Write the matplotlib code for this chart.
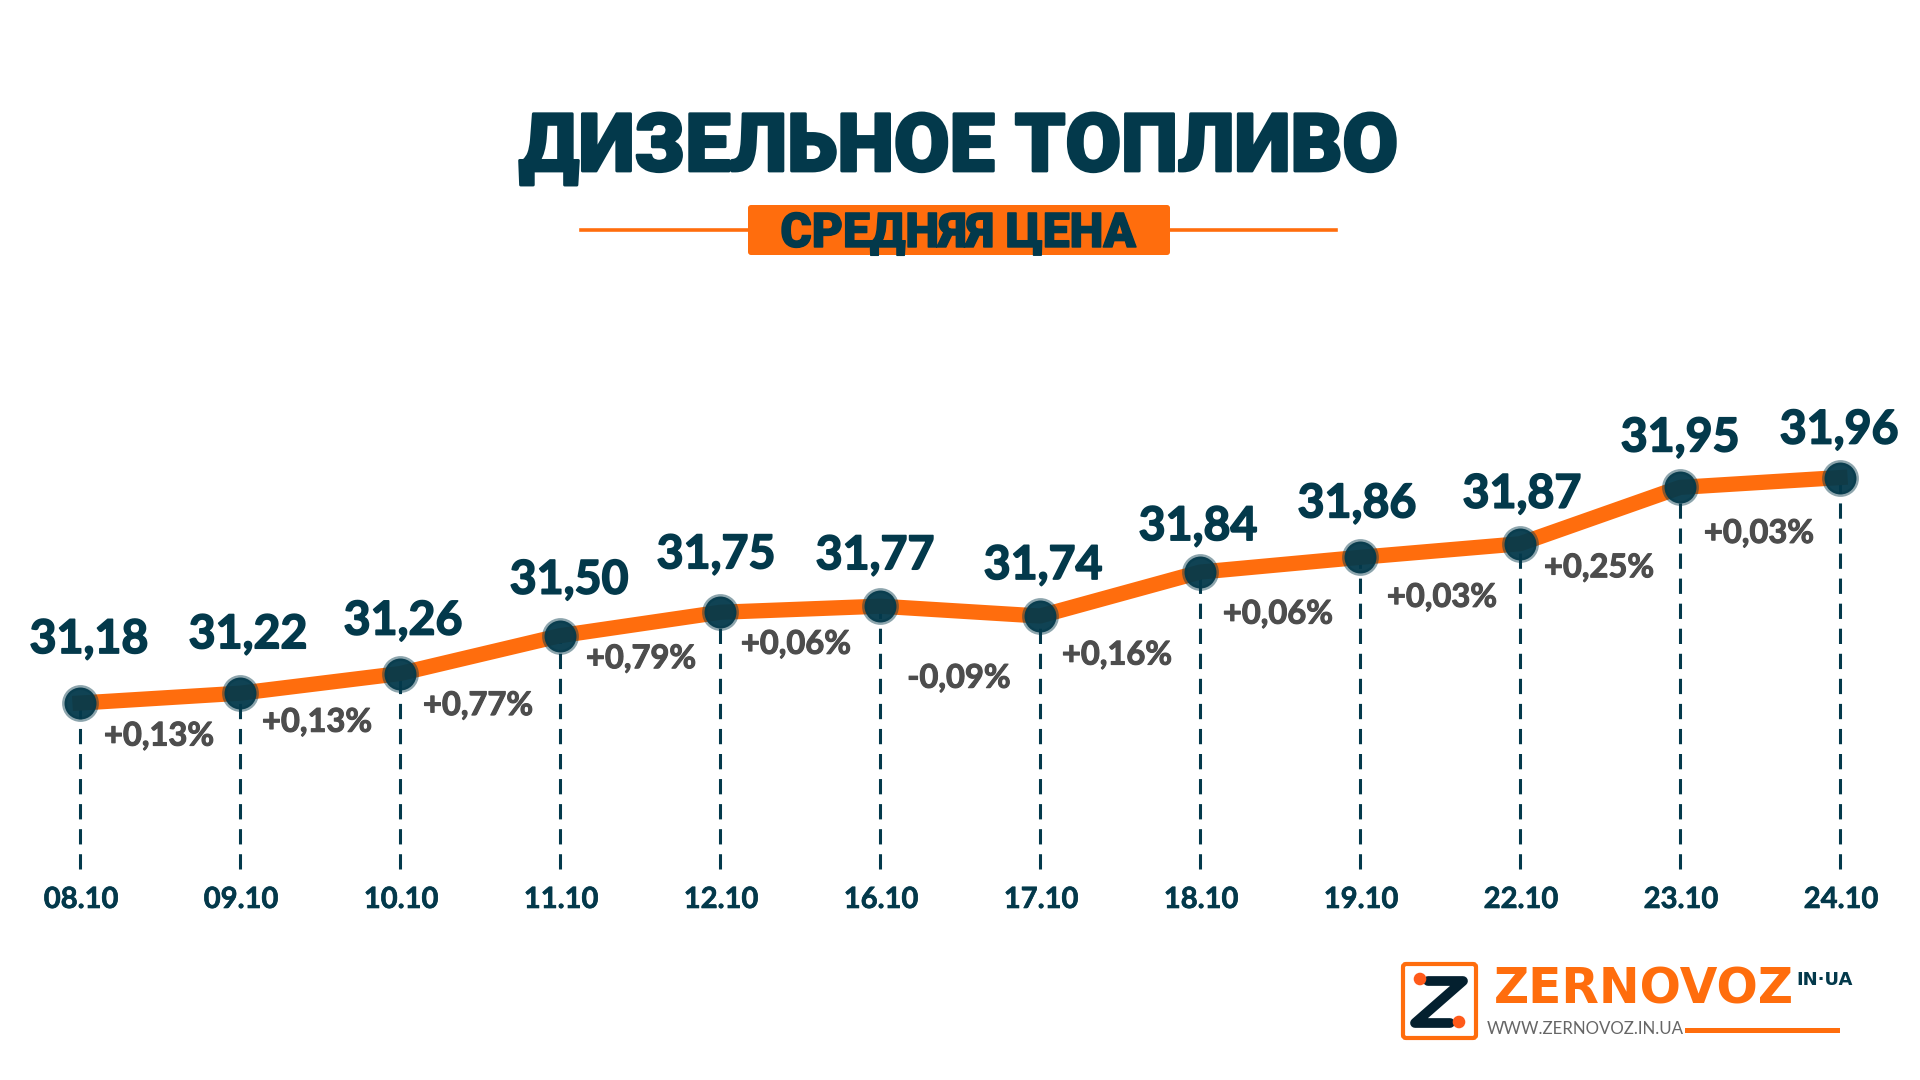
import numpy as np
from matplotlib import pyplot as plt
from matplotlib import patheffects as pe
from matplotlib.patches import FancyBboxPatch, Circle

dates = ["08.10", "09.10", "10.10", "11.10", "12.10", "16.10", "17.10", "18.10", "19.10", "22.10", "23.10", "24.10"]
price_labels = ["31,18", "31,22", "31,26", "31,50", "31,75", "31,77", "31,74", "31,84", "31,86", "31,87", "31,95", "31,96"]
change_labels = ["+0,13%", "+0,13%", "+0,77%", "+0,79%", "+0,06%", "-0,09%", "+0,16%", "+0,06%", "+0,03%", "+0,25%", "+0,03%"]
# the drawn line is not to scale with its labels, so heights are read off the picture
line_level = [31.18, 31.214, 31.282, 31.413, 31.494, 31.515, 31.481, 31.633, 31.684, 31.731, 31.926, 31.96]

# label nudges in pixels
price_dx = [9, 8, 3, 9, -4, -5, 3, -2, -3, 2, 0, -1]
price_dy = [64, 59, 53, 56, 58, 51, 51, 46, 54, 50, 50, 48]
change_dx = [79, 77, 78, 81, 76, 79, 77, 78, 82, 79, 79]
change_dy = [-33, -29, -32, -23, -32, -72, -39, -42, -40, -24, -46]

DARK = "#03394b"
ORANGE = "#ff6d0d"
GREY = "#4d4d4d"


def heavy(width, color):
    return [pe.withStroke(linewidth=width, foreground=color)]


fig = plt.figure(figsize=(19.2, 10.8), dpi=100)
ax = fig.add_axes([0, 0, 1, 1])
ax.set_xlim(-0.5, 11.5)
ax.set_ylim(29.876, 33.612)
ax.axis("off")

x = np.arange(len(dates))
base = 30.606

ax.vlines(x, base, line_level, color=DARK, lw=2.2, linestyles=(0, (5, 3.2)), zorder=1)
ax.plot(x, line_level, color=ORANGE, lw=11, solid_joinstyle="round", zorder=2)
ax.plot(x, line_level, ls="none", marker="o", ms=23, mfc=(3/255, 57/255, 75/255, 0.95),
        mec=(3/255, 57/255, 75/255, 0.45), mew=3.5, zorder=3)

for i in x:
    ax.annotate(price_labels[i], (x[i], line_level[i]), xytext=(price_dx[i], price_dy[i]),
                textcoords="offset pixels", ha="center", va="center", color=DARK,
                family="Lato", weight="bold", fontsize=33.5, path_effects=heavy(1.2, DARK))
    ax.annotate(dates[i], (x[i], base), xytext=(1, -31), textcoords="offset pixels",
                ha="center", va="center", color=DARK, family="Lato", weight="bold", fontsize=21,
                path_effects=heavy(0.5, DARK))
for i in range(len(change_labels)):
    ax.annotate(change_labels[i], (x[i], line_level[i]), xytext=(change_dx[i], change_dy[i]),
                textcoords="offset pixels", ha="center", va="center", color=GREY,
                family="Lato", weight="bold", fontsize=23.5, path_effects=heavy(0.8, GREY))

# title and logo are placed in pixels on a second axes
deco = fig.add_axes([0, 0, 1, 1])
deco.set_xlim(0, 1920)
deco.set_ylim(1080, 0)
deco.axis("off")
deco.patch.set_alpha(0)

deco.text(958, 149, "ДИЗЕЛЬНОЕ ТОПЛИВО", ha="center", va="center", color=DARK,
          family="Roboto", weight="black", fontsize=58, path_effects=heavy(2, DARK))
deco.plot([581, 1336], [229.5, 229.5], color=ORANGE, lw=2.6, zorder=1)
deco.add_patch(FancyBboxPatch((748, 205), 422, 50, boxstyle="round,pad=0,rounding_size=3",
                              fc=ORANGE, ec="none", zorder=2))
deco.text(958, 234, "СРЕДНЯЯ ЦЕНА", ha="center", va="center", color=DARK,
          family="Roboto", weight="black", fontsize=34.5, zorder=3, path_effects=heavy(1, DARK))

# logo
deco.add_patch(FancyBboxPatch((1403, 964), 73, 74, boxstyle="round,pad=0,rounding_size=3",
                              fc="none", ec=ORANGE, lw=3))
deco.plot([1428, 1463, 1415, 1450], [981, 981, 1023, 1023], color="#04202f", lw=7,
          solid_capstyle="round", solid_joinstyle="round")
deco.add_patch(Circle((1420, 979), 6.3, fc="#ff5a1a", ec="none", zorder=5))
deco.add_patch(Circle((1459, 1022), 6.3, fc="#ff5a1a", ec="none", zorder=5))
deco.text(1494, 990, "ZERNOVOZ", ha="left", va="center", color=ORANGE,
          family="DejaVu Sans", weight="bold", fontsize=35)
deco.text(1796, 980, "IN·UA", ha="left", va="center", color=DARK,
          family="DejaVu Sans", weight="bold", fontsize=13)
deco.text(1487, 1029, "WWW.ZERNOVOZ.IN.UA", ha="left", va="center", color="#666666",
          family="Lato", weight="normal", fontsize=12.2)
deco.plot([1687, 1837], [1030, 1030], color=ORANGE, lw=3.6)

fig.savefig("out.png", dpi=100)
